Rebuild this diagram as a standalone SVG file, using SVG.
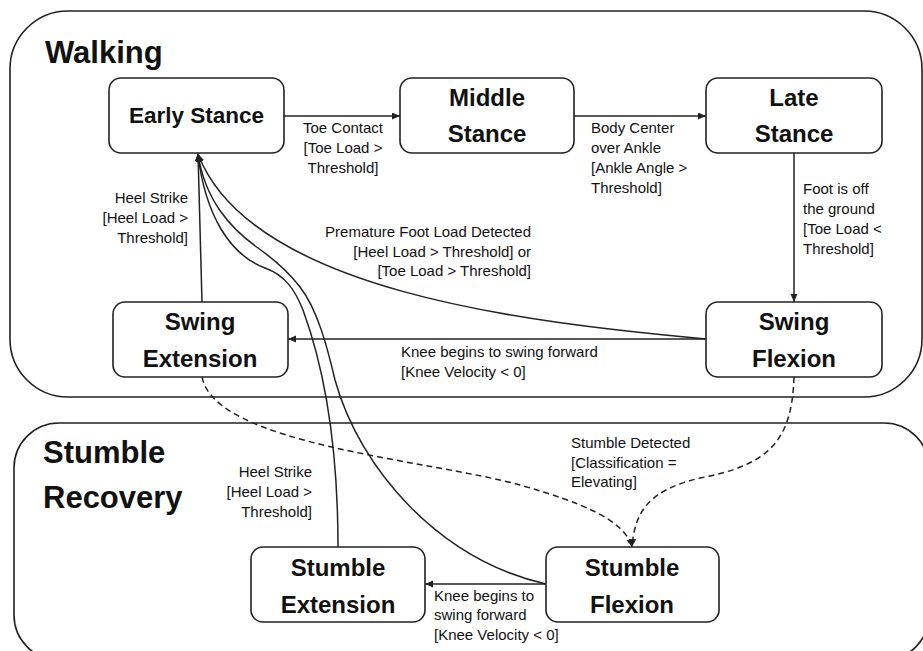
<svg xmlns="http://www.w3.org/2000/svg" width="923" height="651" viewBox="0 0 923 651">
  <style>
    .region { fill: none; stroke: #222; stroke-width: 1.6; }
    .node rect { fill: #fff; stroke: #222; stroke-width: 1.6; }
    .title { font-family: "Liberation Sans", Arial, sans-serif; font-weight: bold; font-size: 31px; fill: #111; }
    .name { font-family: "Liberation Sans", Arial, sans-serif; font-weight: bold; font-size: 24px; fill: #111; text-anchor: middle; }
    .lbl { font-family: "Liberation Sans", Arial, sans-serif; font-size: 15px; fill: #111; }
    .edge { fill: none; stroke: #222; stroke-width: 1.5; }
    .dash { stroke-dasharray: 6 4; }
  </style>
  <defs>
    <marker id="arrow" markerUnits="userSpaceOnUse" markerWidth="9" markerHeight="8" refX="8" refY="3.5" orient="auto">
      <path d="M0,0 L8,3.5 L0,7 z" fill="#222"/>
    </marker>
  </defs>

  <rect fill="#fff" x="0" y="0" width="923" height="651"/>

  <!-- Composite states -->
  <g id="walking">
    <rect class="region" x="10" y="11" width="912" height="386" rx="58" ry="58"/>
    <text class="title" x="45" y="63">Walking</text>
  </g>
  <g id="stumble-recovery">
    <rect class="region" x="14" y="423" width="915" height="237" rx="45" ry="45"/>
    <text class="title" x="43" y="463">Stumble</text>
    <text class="title" x="43" y="508">Recovery</text>
  </g>

  <!-- Transitions -->
  <g id="connectors">
    <line class="edge" x1="284" y1="116" x2="400" y2="116" marker-end="url(#arrow)"/>
    <line class="edge" x1="574" y1="116" x2="706" y2="116" marker-end="url(#arrow)"/>
    <line class="edge" x1="794" y1="153" x2="794" y2="302" marker-end="url(#arrow)"/>
    <line class="edge" x1="706" y1="339" x2="288" y2="339" marker-end="url(#arrow)"/>
    <line class="edge" x1="202" y1="302" x2="198" y2="153" marker-end="url(#arrow)"/>
    <path class="edge" d="M706,339 C520,322 250,290 198,154" marker-end="url(#arrow)"/>
    <path class="edge" d="M338,547 C338,450 325,370 303,310 C295,290 285,275 265,268 C230,255 205,215 198,154" marker-end="url(#arrow)"/>
    <path class="edge" d="M546,584 C440,560 360,470 335,380 C328,350 318,310 300,287 C290,274 275,260 258,248 C230,228 205,200 198,154" marker-end="url(#arrow)"/>
    <line class="edge" x1="546" y1="584" x2="425" y2="584" marker-end="url(#arrow)"/>
    <path class="edge dash" d="M202,377 C215,445 430,460 520,485 C580,502 625,520 632,547" marker-end="url(#arrow)"/>
    <path class="edge dash" d="M794,377 C792,440 770,465 700,478 C650,490 635,510 632,547" marker-end="url(#arrow)"/>
  </g>

  <!-- Transition labels -->
  <g id="labels">
    <text class="lbl" text-anchor="middle"><tspan x="343" y="133">Toe Contact</tspan><tspan x="343" y="153">[Toe Load &gt;</tspan><tspan x="343" y="173">Threshold]</tspan></text>
    <text class="lbl"><tspan x="591" y="133">Body Center</tspan><tspan x="591" y="153">over Ankle</tspan><tspan x="591" y="173">[Ankle Angle &gt;</tspan><tspan x="591" y="193">Threshold]</tspan></text>
    <text class="lbl"><tspan x="803" y="194">Foot is off</tspan><tspan x="803" y="214">the ground</tspan><tspan x="803" y="234">[Toe Load &lt;</tspan><tspan x="803" y="254">Threshold]</tspan></text>
    <text class="lbl" text-anchor="end"><tspan x="188" y="203">Heel Strike</tspan><tspan x="188" y="223">[Heel Load &gt;</tspan><tspan x="188" y="243">Threshold]</tspan></text>
    <text class="lbl" text-anchor="end"><tspan x="531" y="237">Premature Foot Load Detected</tspan><tspan x="531" y="257">[Heel Load &gt; Threshold] or</tspan><tspan x="531" y="276">[Toe Load &gt; Threshold]</tspan></text>
    <text class="lbl"><tspan x="401" y="357">Knee begins to swing forward</tspan><tspan x="401" y="377">[Knee Velocity &lt; 0]</tspan></text>
    <text class="lbl"><tspan x="571" y="448">Stumble Detected</tspan><tspan x="571" y="468">[Classification =</tspan><tspan x="571" y="487">Elevating]</tspan></text>
    <text class="lbl" text-anchor="end"><tspan x="312" y="477">Heel Strike</tspan><tspan x="312" y="497">[Heel Load &gt;</tspan><tspan x="312" y="517">Threshold]</tspan></text>
    <text class="lbl"><tspan x="434" y="601">Knee begins to</tspan><tspan x="434" y="620">swing forward</tspan><tspan x="434" y="640">[Knee Velocity &lt; 0]</tspan></text>
  </g>

  <!-- States -->
  <g id="early-stance" class="node">
    <rect x="109" y="78" width="175" height="75" rx="12"/>
    <text class="name" x="196.5" y="123" style="font-size:22.5px">Early Stance</text>
  </g>
  <g id="middle-stance" class="node">
    <rect x="400" y="78" width="174" height="75" rx="12"/>
    <text class="name" x="487" y="106">Middle</text>
    <text class="name" x="487" y="142">Stance</text>
  </g>
  <g id="late-stance" class="node">
    <rect x="706" y="78" width="176" height="75" rx="12"/>
    <text class="name" x="794" y="106">Late</text>
    <text class="name" x="794" y="142">Stance</text>
  </g>
  <g id="swing-flexion" class="node">
    <rect x="706" y="302" width="176" height="75" rx="12"/>
    <text class="name" x="794" y="330">Swing</text>
    <text class="name" x="794" y="367">Flexion</text>
  </g>
  <g id="swing-extension" class="node">
    <rect x="113" y="302" width="175" height="75" rx="12"/>
    <text class="name" x="200" y="330">Swing</text>
    <text class="name" x="200" y="367">Extension</text>
  </g>
  <g id="stumble-extension" class="node">
    <rect x="251" y="547" width="174" height="75" rx="12"/>
    <text class="name" x="338" y="576">Stumble</text>
    <text class="name" x="338" y="613">Extension</text>
  </g>
  <g id="stumble-flexion" class="node">
    <rect x="546" y="547" width="173" height="75" rx="12"/>
    <text class="name" x="632" y="576">Stumble</text>
    <text class="name" x="632" y="613">Flexion</text>
  </g>
</svg>
